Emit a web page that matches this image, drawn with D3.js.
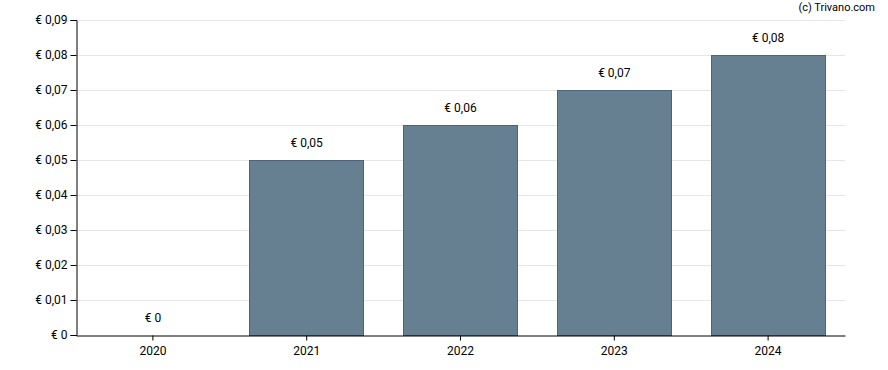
<!DOCTYPE html>
<html><head><meta charset="utf-8">
<script src="https://cdn.jsdelivr.net/npm/d3@7"></script>
<style>body{margin:0;background:#fff;font-family:Roboto,"Noto Sans",sans-serif;}</style>
</head><body><svg id="c" width="888" height="370"></svg>
<script>
const years = ["2020","2021","2022","2023","2024"];
const values = [0, 0.05, 0.06, 0.07, 0.08];
const valueLabels = ["€ 0","€ 0,05","€ 0,06","€ 0,07","€ 0,08"];
const yTicks = [0,0.01,0.02,0.03,0.04,0.05,0.06,0.07,0.08,0.09];

const svg = d3.select("#c");
const m = {l:76, r:43, t:20, b:35};
const W = 888, H = 370;
const x = d3.scaleBand().domain(years).range([m.l, W-m.r]).paddingInner(0.26).paddingOuter(0.13);
const y = d3.scaleLinear().domain([0,0.09]).range([H-m.b, m.t]);
const fmt = v => v===0 ? "€ 0" : "€ " + d3.format(".2f")(v).replace(".", ",");

// grid
svg.append("g").selectAll("line").data(yTicks.slice(1)).join("line")
  .attr("x1", m.l).attr("x2", W-m.r)
  .attr("y1", d=>Math.round(y(d))+0.5).attr("y2", d=>Math.round(y(d))+0.5)
  .attr("stroke","#e6e6e6").attr("stroke-width",1);

// bars
svg.append("g").selectAll("rect").data(values).join("rect")
  .attr("x",(d,i)=>Math.floor(x(years[i]))+0.5)
  .attr("y",d=>Math.round(y(d))+0.5)
  .attr("width",Math.round(x.bandwidth()))
  .attr("height",d=>Math.max(0,Math.round(y(0))-Math.round(y(d))))
  .attr("fill","#668091").attr("stroke","#4b6479").attr("stroke-width",1)
  .style("display",d=>d>0?null:"none");

// value labels
svg.append("g").selectAll("text").data(values).join("text")
  .attr("x",(d,i)=>x(years[i])+x.bandwidth()/2)
  .attr("y",d=>y(d)-13)
  .attr("text-anchor","middle").attr("font-size",12).attr("fill","#000")
  .text((d,i)=>valueLabels[i]);

// y axis
const ya = svg.append("g").attr("transform",`translate(${m.l+0.5},0)`)
  .call(d3.axisLeft(y).tickValues(yTicks).tickFormat(fmt).tickSize(6).tickPadding(3));
ya.select(".domain").attr("stroke","#000");
ya.selectAll("text").attr("font-size",12).attr("font-family","Roboto,sans-serif").attr("fill","#000");

// x axis
const xa = svg.append("g").attr("transform",`translate(0,${Math.round(y(0))+0.5})`)
  .call(d3.axisBottom(x).tickSize(5).tickSizeOuter(0).tickPadding(6));
xa.select(".domain").attr("stroke","#000");
xa.selectAll("text").attr("font-size",12).attr("font-family","Roboto,sans-serif").attr("fill","#000");

svg.append("text").attr("x",875).attr("y",11).attr("text-anchor","end")
  .attr("font-size",11).attr("fill","#000").text("(c) Trivano.com");
</script></body></html>
